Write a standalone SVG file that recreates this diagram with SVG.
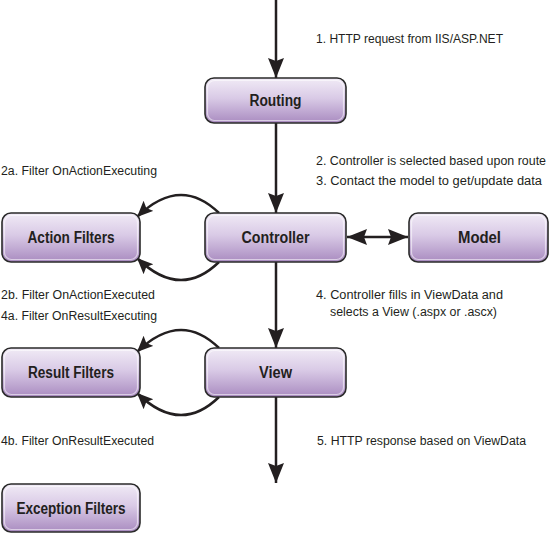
<svg xmlns="http://www.w3.org/2000/svg" width="550" height="533" viewBox="0 0 550 533">
<defs>
<linearGradient id="g" x1="0" y1="0" x2="0" y2="1">
<stop offset="0" stop-color="#f1ebf6"/>
<stop offset="0.45" stop-color="#d9cae6"/>
<stop offset="1" stop-color="#a98bc0"/>
</linearGradient>
<marker id="ah" markerUnits="userSpaceOnUse" markerWidth="22" markerHeight="18" refX="20" refY="8" orient="auto-start-reverse" viewBox="0 0 22 18">
<path d="M0,0 L20,8 L0,16 L3,8 z" fill="#231f20"/>
</marker>
<marker id="ahs" markerUnits="userSpaceOnUse" markerWidth="18" markerHeight="16" refX="16" refY="7" orient="auto" viewBox="0 0 18 16">
<path d="M0,0 L16,7 L0,14 L3,7 z" fill="#231f20"/>
</marker>
</defs>
<style>
.box{fill:url(#g);stroke:#2a2a2a;stroke-width:1.6}
.hl{fill:none;stroke:#ffffff;stroke-opacity:0.55;stroke-width:1.2}
.lbl{font-family:"Liberation Sans",Arial,sans-serif;font-weight:bold;font-size:16px;fill:#231f20;text-anchor:middle}
.t{font-family:"Liberation Sans",Arial,sans-serif;font-size:12px;fill:#231f20}
.c{fill:none;stroke:#231f20;stroke-width:2.5}
</style>
<rect width="550" height="533" fill="#ffffff"/>
<g id="connectors">
<path class="c" d="M276 0 L276 78" marker-end="url(#ah)"/>
<path class="c" d="M276 123 L276 213" marker-end="url(#ah)"/>
<path class="c" d="M276 262 L276 348" marker-end="url(#ah)"/>
<path class="c" d="M276 397 L276 483" marker-end="url(#ah)"/>
<path class="c" d="M347 237 L408 237" marker-start="url(#ah)" marker-end="url(#ah)"/>
<path class="c" d="M219 213 Q180 175 137 217" marker-end="url(#ahs)"/>
<path class="c" d="M219 262 Q180 300 137 258" marker-end="url(#ahs)"/>
<path class="c" d="M219 348 Q180 310 137 352" marker-end="url(#ahs)"/>
<path class="c" d="M219 397 Q180 435 137 393" marker-end="url(#ahs)"/>
</g>
<g id="routing">
<rect class="box" x="205" y="78" width="141" height="45" rx="9"/>
<rect class="hl" x="207.5" y="80.5" width="136" height="40" rx="7"/>
<text class="lbl" x="275.5" y="106" textLength="52" lengthAdjust="spacingAndGlyphs">Routing</text>
</g>
<g id="controller">
<rect class="box" x="205" y="213" width="141" height="49" rx="9"/>
<rect class="hl" x="207.5" y="215.5" width="136" height="44" rx="7"/>
<text class="lbl" x="275.5" y="243" textLength="68" lengthAdjust="spacingAndGlyphs">Controller</text>
</g>
<g id="action-filters">
<rect class="box" x="2" y="213" width="138" height="49" rx="9"/>
<rect class="hl" x="4.5" y="215.5" width="133" height="44" rx="7"/>
<text class="lbl" x="71" y="243" textLength="87" lengthAdjust="spacingAndGlyphs">Action Filters</text>
</g>
<g id="model">
<rect class="box" x="409" y="213" width="139" height="49" rx="9"/>
<rect class="hl" x="411.5" y="215.5" width="134" height="44" rx="7"/>
<text class="lbl" x="479.5" y="243" textLength="43" lengthAdjust="spacingAndGlyphs">Model</text>
</g>
<g id="view">
<rect class="box" x="205" y="348" width="141" height="49" rx="9"/>
<rect class="hl" x="207.5" y="350.5" width="136" height="44" rx="7"/>
<text class="lbl" x="275.5" y="378" textLength="33" lengthAdjust="spacingAndGlyphs">View</text>
</g>
<g id="result-filters">
<rect class="box" x="2" y="348" width="138" height="49" rx="9"/>
<rect class="hl" x="4.5" y="350.5" width="133" height="44" rx="7"/>
<text class="lbl" x="71" y="378" textLength="86" lengthAdjust="spacingAndGlyphs">Result Filters</text>
</g>
<g id="exception-filters">
<rect class="box" x="2" y="484" width="138" height="48" rx="9"/>
<rect class="hl" x="4.5" y="486.5" width="133" height="43" rx="7"/>
<text class="lbl" x="71" y="514" textLength="109" lengthAdjust="spacingAndGlyphs">Exception Filters</text>
</g>
<g id="labels">
<text class="t" x="316" y="43" textLength="187" lengthAdjust="spacingAndGlyphs">1. HTTP request from IIS/ASP.NET</text>
<text class="t" x="316" y="165" textLength="230" lengthAdjust="spacingAndGlyphs">2. Controller is selected based upon route</text>
<text class="t" x="316" y="185" textLength="226" lengthAdjust="spacingAndGlyphs">3. Contact the model to get/update data</text>
<text class="t" x="316" y="299" textLength="187" lengthAdjust="spacingAndGlyphs">4. Controller fills in ViewData and</text>
<text class="t" x="330" y="316" textLength="167" lengthAdjust="spacingAndGlyphs">selects a View (.aspx or .ascx)</text>
<text class="t" x="317" y="445" textLength="209" lengthAdjust="spacingAndGlyphs">5. HTTP response based on ViewData</text>
<text class="t" x="1" y="175" textLength="156" lengthAdjust="spacingAndGlyphs">2a. Filter OnActionExecuting</text>
<text class="t" x="1" y="299" textLength="154" lengthAdjust="spacingAndGlyphs">2b. Filter OnActionExecuted</text>
<text class="t" x="1" y="320" textLength="156" lengthAdjust="spacingAndGlyphs">4a. Filter OnResultExecuting</text>
<text class="t" x="1" y="445" textLength="153" lengthAdjust="spacingAndGlyphs">4b. Filter OnResultExecuted</text>
</g>
</svg>
